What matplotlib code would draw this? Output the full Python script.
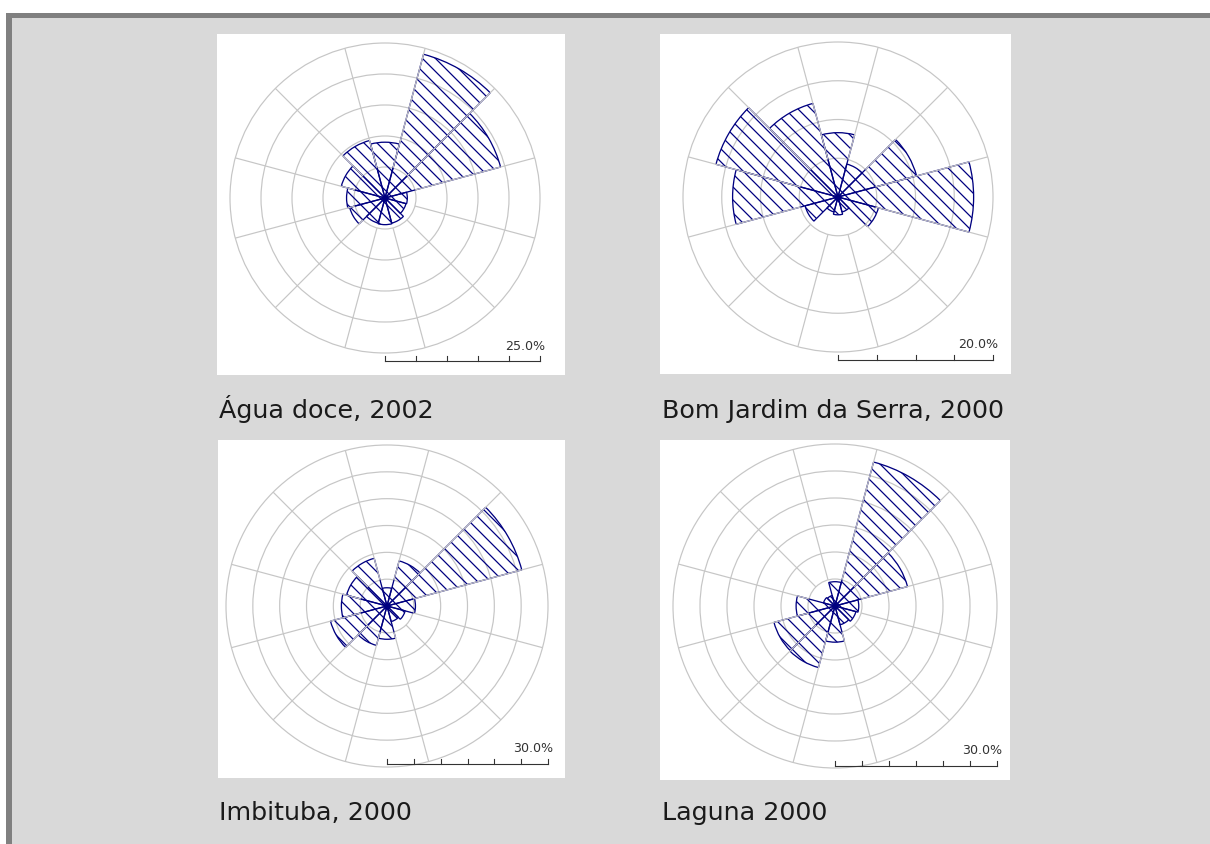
import matplotlib.pyplot as plt
from matplotlib.patches import Wedge, Circle, Rectangle
import numpy as np

# figure drawn in pixels; dpi chosen so the default hatch spacing matches
DPI = 78
W, H = 1210, 844

directions = [0, 30, 60, 90, 120, 150, 180, 210, 240, 270, 300, 330]

agua_doce = [9.0, 24.0, 19.3, 3.6, 3.5, 4.2, 4.3, 4.2, 5.9, 6.2, 7.3, 9.6]
bom_jardim = [8.3, 4.4, 10.5, 17.5, 5.4, 2.0, 2.3, 2.0, 4.4, 13.6, 16.3, 12.5]
imbituba = [3.4, 8.7, 26.0, 5.3, 3.5, 3.0, 6.2, 7.6, 10.9, 8.5, 7.8, 9.2]
laguna = [4.5, 27.6, 13.9, 4.4, 4.0, 3.6, 6.7, 11.8, 11.7, 7.2, 2.2, 2.0]

series = [agua_doce, bom_jardim, imbituba, laguna]
titles = ["Água doce, 2002", "Bom Jardim da Serra, 2000", "Imbituba, 2000", "Laguna 2000"]
scale_max = [25, 20, 30, 30]
ring_step = 5

# panel box (left, top, width, height), rose centre and outer radius, in pixels
panels = [
    (217, 34, 348, 341, 385, 198, 155),
    (660, 34, 351, 340, 838, 197, 155),
    (218, 440, 347, 338, 387, 606, 161),
    (660, 440, 350, 340, 835, 606, 162),
]
caption_pos = [(219, 418), (662, 418), (219, 820), (662, 820)]

NAVY = "#000080"
GRID = "#c6c6c6"
BG = "#d9d9d9"
BORDER = "#808080"


def pt(px):
    return px * 72.0 / DPI


plt.rcParams["hatch.linewidth"] = pt(1.25)

fig = plt.figure(figsize=(W / DPI, H / DPI), dpi=DPI, facecolor=BG)


def fig_rect(x, y, w, h, color):
    fig.add_artist(Rectangle((x / W, 1 - (y + h) / H), w / W, h / H,
                             transform=fig.transFigure, color=color, lw=0))


fig_rect(0, 0, W, 13, "white")
fig_rect(0, 0, 6, H, "white")
fig_rect(6, 13, W - 6, 5, BORDER)
fig_rect(6, 13, 6, H - 13, BORDER)


def draw_rose(values, vmax, box, ax):
    left, top, w, h, cx, cy, R = box
    s = R / vmax
    ax.set_xlim((left - cx) / s, (left + w - cx) / s)
    ax.set_ylim((cy - (top + h)) / s, (cy - top) / s)
    ax.set_xticks([])
    ax.set_yticks([])
    for sp in ax.spines.values():
        sp.set_visible(False)
    ax.set_facecolor("white")

    rings = np.arange(ring_step, vmax + 0.1, ring_step)
    for r in rings:
        ax.add_patch(Circle((0, 0), r, fill=False, ec=GRID, lw=pt(1.2)))
    for a in np.deg2rad(np.arange(15, 360, 30)):
        ax.plot([rings[0] * np.sin(a), vmax * np.sin(a)],
                [rings[0] * np.cos(a), vmax * np.cos(a)],
                color=GRID, lw=pt(1.2), solid_capstyle="butt")

    for d, v in zip(directions, values):
        ax.add_patch(Wedge((0, 0), v, 90 - d - 15, 90 - d + 15, fill=False,
                           hatch="\\\\", ec=NAVY, lw=pt(1.3)))
    ax.plot(0, 0, "o", color=NAVY, ms=pt(5))

    # scale bar
    yb = -(top + h - 14 - cy) / s
    tick = 5 / s
    ax.plot([0, vmax], [yb, yb], color="#333333", lw=pt(1.1))
    for t in np.arange(0, vmax + 0.1, ring_step):
        ax.plot([t, t], [yb, yb + tick], color="#333333", lw=pt(1.1))
    ax.text(vmax + 5 / s, yb + 15 / s, f"{vmax:.1f}%", ha="right", va="center",
            fontsize=pt(12.6), color="#333333")


for vals, vmax, box, title, (tx, ty) in zip(series, scale_max, panels, titles, caption_pos):
    left, top, w, h = box[:4]
    ax = fig.add_axes([left / W, 1 - (top + h) / H, w / W, h / H])
    draw_rose(vals, vmax, box, ax)
    fig.text(tx / W, 1 - ty / H, title, ha="left", va="baseline",
             fontsize=pt(25.4), color="#1a1a1a")

fig.savefig("out.png", dpi=DPI, facecolor=BG)
